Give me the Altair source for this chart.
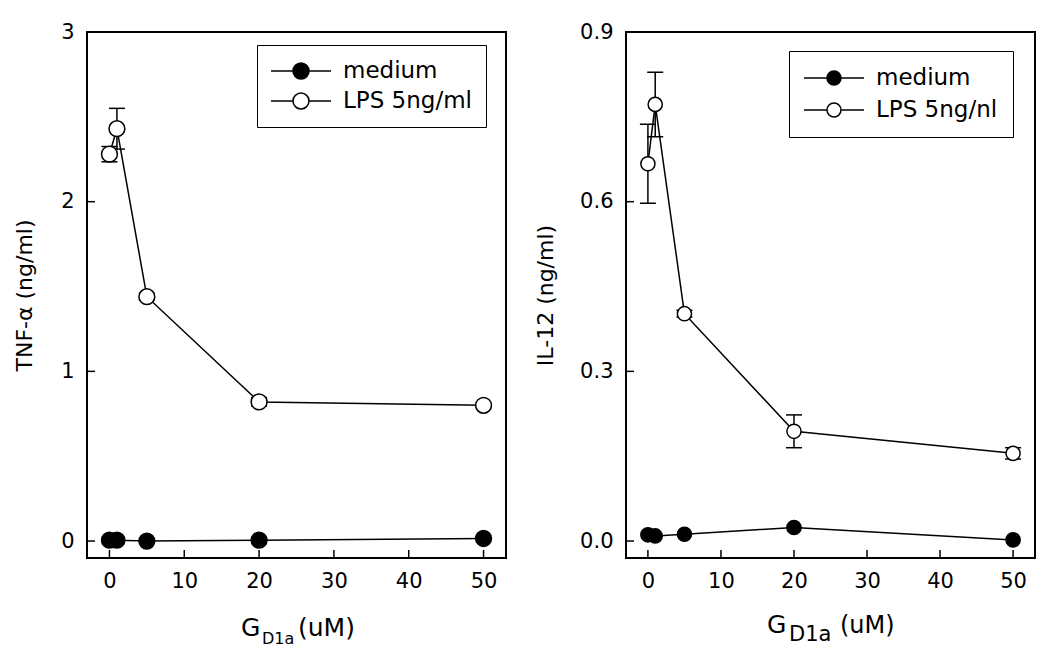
import altair as alt
import pandas as pd

# ---------------- data ----------------
x_vals = [0, 1, 5, 20, 50]
x_ticks = [0, 10, 20, 30, 40, 50]

tnf_medium = [0.005, 0.005, 0.0, 0.005, 0.015]
tnf_lps = [2.28, 2.43, 1.44, 0.82, 0.80]
tnf_lps_err = [0.045, 0.12, 0.02, 0.025, 0.012]
tnf_ticks = [0, 1, 2, 3]

il12_medium = [0.011, 0.009, 0.012, 0.024, 0.002]
il12_lps = [0.667, 0.772, 0.402, 0.194, 0.155]
il12_lps_err = [0.07, 0.057, 0.006, 0.029, 0.01]
il12_ticks = [0.0, 0.3, 0.6, 0.9]

series_medium = "medium"
series_lps_left = "LPS 5ng/ml"
series_lps_right = "LPS 5ng/nl"

y_title_left = "TNF-\u03b1 (ng/ml)"
y_title_right = "IL-12 (ng/ml)"
x_title_parts = ["G", "D1a", "(uM)"]

FONT = "DejaVu Sans"
SYM_SIZE = 484  # legend symbol base size (sqrt = 22 px)


def legend_symbol(r_px, half_len_px=30):
    s = (SYM_SIZE ** 0.5) / 2.0
    r = round(r_px / s, 3)
    L = round(half_len_px / s, 3)
    return (f"M{-L},0L{-r},0M{r},0L{L},0"
            f"M{r},0A{r},{r},0,1,1,{-r},0A{r},{r},0,1,1,{r},0Z")


def panel(medium, lps, err, lps_name, y_ticks, y_fmt, y_domain, y_title,
          width, height, pt_size, sym_r, leg_x, leg_y, leg_pad, leg_row,
          title_pos, title_padding):
    df = pd.DataFrame({
        "x": x_vals * 2,
        "y": medium + lps,
        "series": [series_medium] * len(x_vals) + [lps_name] * len(x_vals),
    })
    edf = pd.DataFrame({
        "x": x_vals,
        "lo": [v - e for v, e in zip(lps, err)],
        "hi": [v + e for v, e in zip(lps, err)],
    })
    xscale = alt.Scale(domain=[-3, 53], nice=False, zero=False)
    yscale = alt.Scale(domain=y_domain, nice=False, zero=False)
    xaxis = alt.Axis(values=x_ticks, format="d", title=None, ticks=False,
                     domain=False, grid=False, labelPadding=12, labelFont=FONT,
                     labelFontSize=21, labelColor="black")
    yaxis = alt.Axis(values=y_ticks, format=y_fmt, title=y_title, ticks=False,
                     domain=False, grid=False, labelPadding=13, labelFont=FONT,
                     labelFontSize=21, labelColor="black", titleFont=FONT,
                     titleFontSize=22, titleFontWeight="normal",
                     titleColor="black", titlePadding=title_padding)

    def X(f):
        return alt.X(f, type="quantitative", scale=xscale, axis=xaxis)

    def Y(f):
        return alt.Y(f, type="quantitative", scale=yscale, axis=yaxis)

    line = alt.Chart(df).mark_line(color="black", strokeWidth=1.5).encode(
        x=X("x"), y=Y("y"), detail="series:N")
    bars = alt.Chart(edf).mark_rule(color="black", strokeWidth=1.5).encode(
        x=X("x"), y=Y("lo"), y2="hi")
    cap_lo = alt.Chart(edf).mark_tick(orient="horizontal", color="black",
                                      size=16, thickness=1.5, opacity=1).encode(
        x=X("x"), y=Y("lo"))
    cap_hi = alt.Chart(edf).mark_tick(orient="horizontal", color="black",
                                      size=16, thickness=1.5, opacity=1).encode(
        x=X("x"), y=Y("hi"))
    legend = alt.Legend(
        title=None, orient="none", legendX=leg_x, legendY=leg_y,
        direction="vertical", symbolType=legend_symbol(sym_r),
        symbolSize=SYM_SIZE, symbolOffset=18,
        symbolStrokeColor="black", symbolStrokeWidth=1.5, symbolOpacity=1,
        labelFont=FONT, labelFontSize=23, labelColor="black", labelOffset=30,
        padding=leg_pad, rowPadding=leg_row, strokeColor="black",
        fillColor="white")
    pts = alt.Chart(df).mark_point(
        shape="circle", filled=True, opacity=1, stroke="black",
        strokeWidth=1.5, size=pt_size).encode(
        x=X("x"), y=Y("y"),
        fill=alt.Fill("series:N",
                      scale=alt.Scale(domain=[series_medium, lps_name],
                                      range=["black", "white"]),
                      legend=legend))
    ytk = alt.Chart(pd.DataFrame({"t": y_ticks})).mark_rule(
        color="black", strokeWidth=1.5).encode(
        y=Y("t"), x=alt.value(0), x2=alt.value(8))
    xtk = alt.Chart(pd.DataFrame({"t": x_ticks})).mark_rule(
        color="black", strokeWidth=1.5).encode(
        x=X("t"), y=alt.value(height), y2=alt.value(height - 8))
    texts = []
    for part, (px, py, fs) in zip(x_title_parts, title_pos):
        texts.append(
            alt.Chart(pd.DataFrame({"s": [part]})).mark_text(
                align="left", baseline="alphabetic", font=FONT, fontSize=fs,
                color="black").encode(text="s:N", x=alt.value(px),
                                      y=alt.value(py)))
    return alt.layer(line, bars, cap_lo, cap_hi, pts, ytk, xtk, *texts).properties(
        width=width, height=height)


left = panel(tnf_medium, tnf_lps, tnf_lps_err, series_lps_left, tnf_ticks, "d",
             [-0.1, 3.0], y_title_left, 419, 526, 250, 8, 170, 13, 14, 6,
             [(154, 604, 25), (175, 612, 16), (211, 604, 25)], 24)
right = panel(il12_medium, il12_lps, il12_lps_err, series_lps_right, il12_ticks,
              ".1f", [-0.03, 0.9], y_title_right, 409, 526, 200, 7, 163, 19, 15, 8,
              [(141, 601, 25), (163, 609, 21), (214, 601, 24)], 22)

chart = alt.hconcat(left, right, spacing=26).resolve_scale(
    fill="independent", x="independent", y="independent").resolve_legend(
    fill="independent").configure_view(stroke="black", strokeWidth=2).properties(
    padding={"left": 4, "top": 12, "right": 5, "bottom": 0})

chart.save("out.html", embed_options={"renderer": "svg", "actions": False})
